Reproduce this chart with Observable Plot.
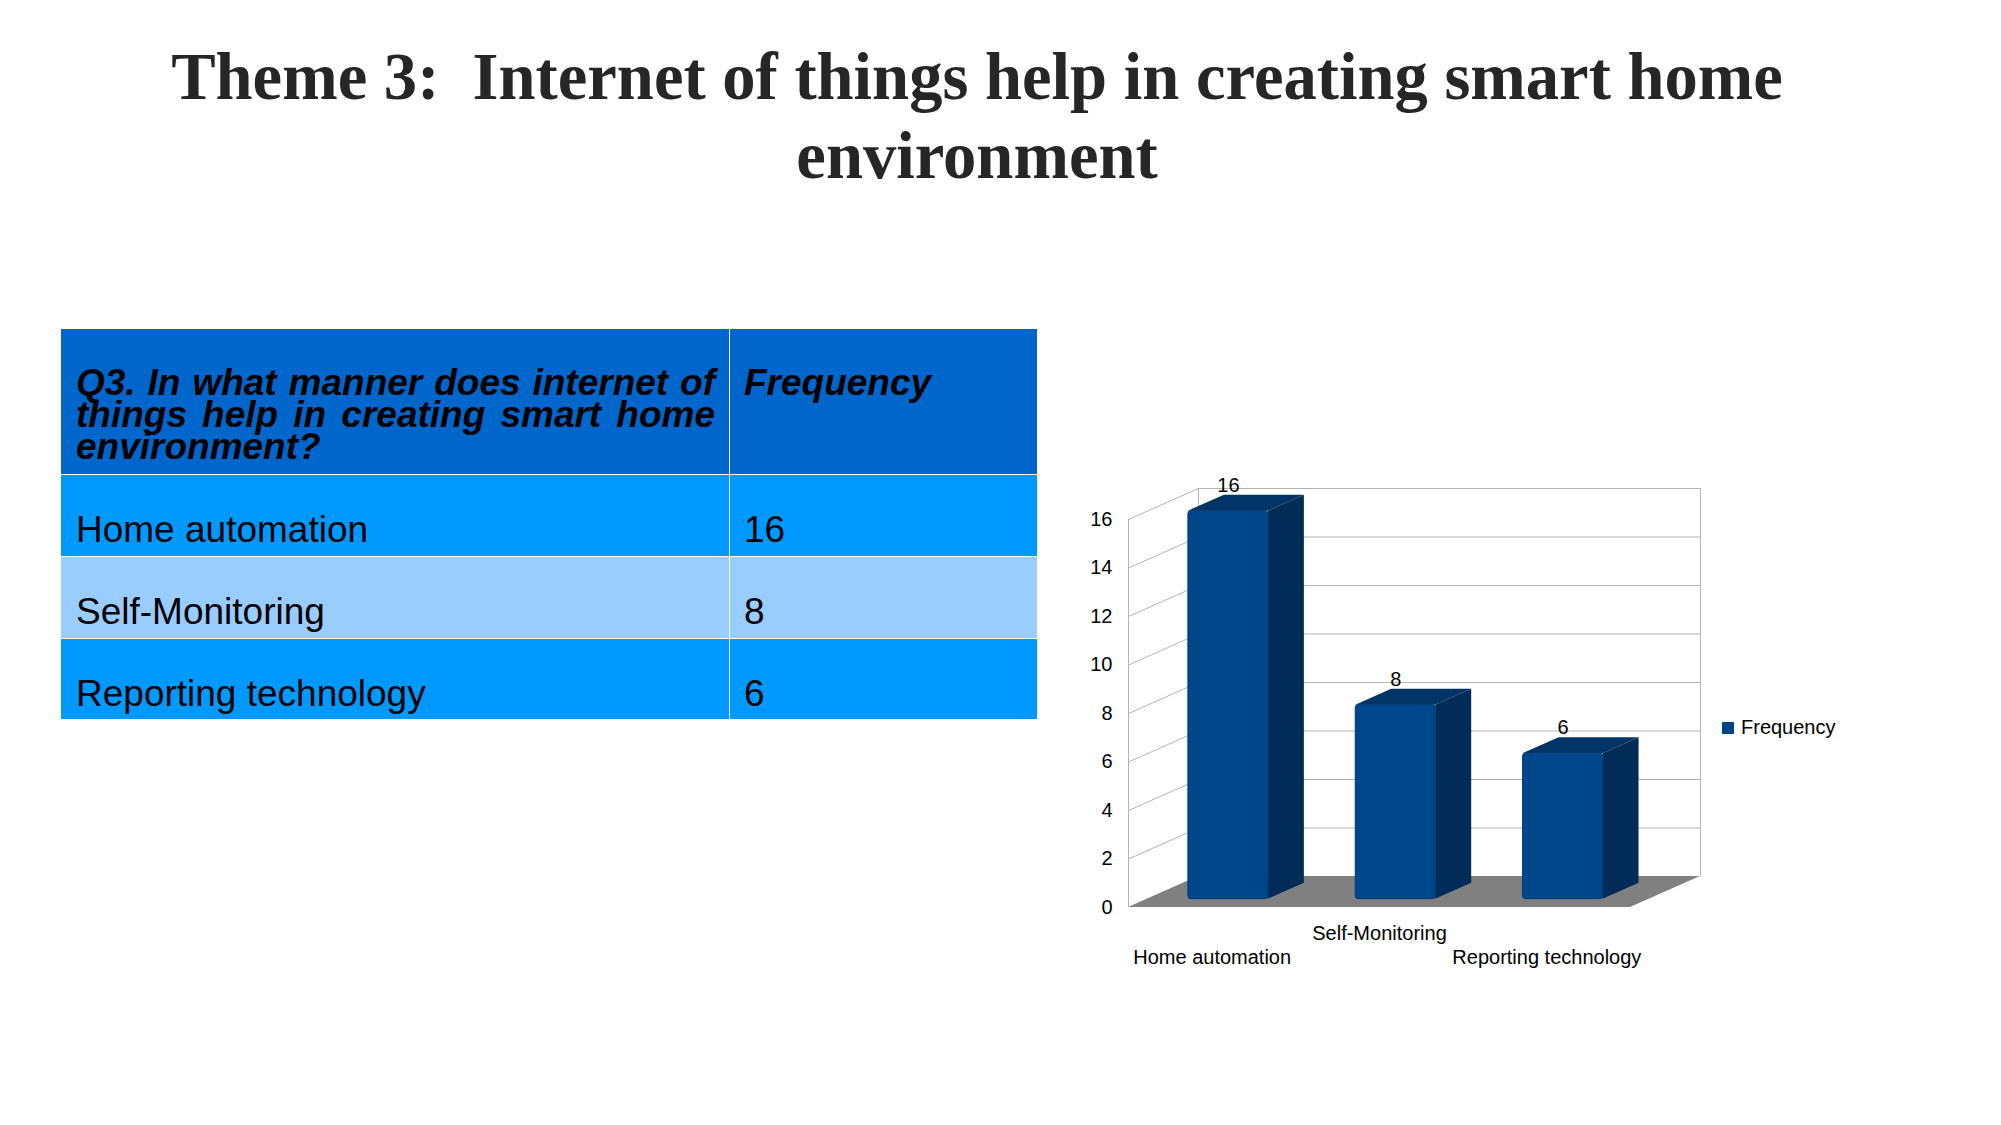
<!DOCTYPE html>
<html>
<head>
<meta charset="utf-8">
<script src="https://cdn.jsdelivr.net/npm/d3@7"></script>
<script src="https://cdn.jsdelivr.net/npm/@observablehq/plot@0.6"></script>
<style>
  html, body { margin: 0; padding: 0; width: 2001px; height: 1125px; overflow: hidden; background: #fff; }
  #title { position: absolute; left: 0; top: 37px; width: 1954px; text-align: center;
    font: bold 66.6px/79px "Liberation Serif", "DejaVu Serif", serif; color: #262626; }
  #table { position: absolute; left: 61px; top: 329px; display: grid;
    grid-template-columns: 668px 307px; grid-template-rows: 145px 81px 81px 80px;
    gap: 1px; background: #fff; }
  #table div { box-sizing: border-box; color: #000; font-family: "Liberation Sans", Arial, sans-serif; }
  #table .hd { background: #0066cc; font-style: italic; font-weight: bold; font-size: 37px; line-height: 32px; padding: 38px 14px 0 15px; text-align: justify; }
  #table .hd2 { padding-left: 14px; }
  #table .bd { font-size: 37px; line-height: 32px; padding: 39px 14px 0 15px; }
  #table .bd2 { padding-left: 14px; }
  #chart { position: absolute; left: 1060px; top: 460px; }
  #legend { position: absolute; left: 1722px; top: 716px; display: flex; align-items: center;
    font: 20px "Liberation Sans", Arial, sans-serif; color: #000; }
  #legend .sw { width: 12px; height: 12px; background: #004586; margin-right: 7px; }
</style>
</head>
<body>
<div id="title"></div>
<div id="table"></div>
<div id="chart"></div>
<div id="legend"><div class="sw"></div><span id="legtext"></span></div>
<script>
// ---- data ----
const titleLines = ["Theme 3:\u00a0 Internet of things help in creating smart home", "environment"];
const tableHeader = ["Q3. In what manner does internet of things help in creating smart home environment?", "Frequency"];
const categories = ["Home automation", "Self-Monitoring", "Reporting technology"];
const frequency = [16, 8, 6];
const yTicks = [0, 2, 4, 6, 8, 10, 12, 14, 16];
const seriesName = "Frequency";
const rowColors = ["#0099ff", "#99ccff", "#0099ff"];

// ---- title ----
const titleEl = document.getElementById("title");
titleLines.forEach((l, i) => { if (i) titleEl.appendChild(document.createElement("br")); titleEl.appendChild(document.createTextNode(l)); });

// ---- table ----
const tb = document.getElementById("table");
const h1 = document.createElement("div"); h1.className = "hd"; h1.textContent = tableHeader[0]; tb.appendChild(h1);
const h2 = document.createElement("div"); h2.className = "hd hd2"; h2.textContent = tableHeader[1]; tb.appendChild(h2);
categories.forEach((c, i) => {
  const a = document.createElement("div"); a.className = "bd"; a.style.background = rowColors[i]; a.textContent = c; tb.appendChild(a);
  const b = document.createElement("div"); b.className = "bd bd2"; b.style.background = rowColors[i]; b.textContent = String(frequency[i]); tb.appendChild(b);
});
document.getElementById("legtext").textContent = seriesName;

// ---- 3D bar chart ----
const n = categories.length;
const yMax = yTicks[yTicks.length - 1];
const rows = categories.map((c, i) => ({ category: c, value: frequency[i], i }));

// projection geometry (scale units)
const DX = 0.418, DY = 1.278;        // depth of the chart box
const BOX = 0.097, BOY = 0.345;      // bar front face offset into depth
const HW = 0.239;                    // bar half width
const BDX = 0.215, BDY = 0.66;       // bar depth

const gridColor = "#b3b3b3";
const frontColor = "#00468a", sideColor = "#002c57", topColor = "#003466";

const xl = d => d.i + 0.5 - HW + BOX;
const xr = d => d.i + 0.5 + HW + BOX;

const sidePts = rows.flatMap(d => [
  { i: d.i, x: xr(d), y1: BOY, y2: BOY + d.value },
  { i: d.i, x: xr(d) + BDX, y1: BOY + BDY, y2: BOY + BDY + d.value }
]);
const topPts = rows.flatMap(d => [
  { i: d.i, y: BOY + d.value, x1: xl(d), x2: xr(d) },
  { i: d.i, y: BOY + BDY + d.value, x1: xl(d) + BDX, x2: xr(d) + BDX }
]);
const floorPts = [
  { y: 0, x1: 0, x2: n },
  { y: DY, x1: DX, x2: n + DX }
];

const txt = { fontSize: 20, fill: "#000" };

const chart = Plot.plot({
  width: 820,
  height: 530,
  style: { fontFamily: "Liberation Sans, Arial, sans-serif", fontSize: "20px", background: "transparent", overflow: "visible" },
  x: { type: "linear", domain: [0, n], range: [68, 570], axis: null },
  y: { type: "linear", domain: [0, yMax], range: [447, 447 - yMax * 24.25], axis: null },
  marks: [
    // back wall gridlines
    Plot.ruleY(yTicks.filter(v => v > 0), { y: v => v + DY, x1: () => DX, x2: () => n + DX, stroke: gridColor, strokeWidth: 1 }),
    // side wall gridlines
    Plot.link(yTicks.filter(v => v > 0), { x1: () => 0, y1: v => v, x2: () => DX, y2: v => v + DY, stroke: gridColor, strokeWidth: 1 }),
    // edges
    Plot.ruleX([0], { x: v => v, y1: () => 0, y2: () => yMax, stroke: gridColor, strokeWidth: 1 }),
    Plot.ruleX([DX, n + DX], { x: v => v, y1: () => DY, y2: () => yMax + DY, stroke: gridColor, strokeWidth: 1 }),
    // floor
    Plot.areaX(floorPts, { y: "y", x1: "x1", x2: "x2", fill: "#808080", curve: "linear" }),
    // bars
    Plot.areaY(sidePts, { x: "x", y1: "y1", y2: "y2", z: "i", fill: sideColor, curve: "linear" }),
    Plot.areaX(topPts, { y: "y", x1: "x1", x2: "x2", z: "i", fill: topColor, curve: "linear" }),
    Plot.rect(rows, { x1: xl, x2: xr, y1: () => BOY, y2: d => BOY + d.value, fill: frontColor, rx: 3, stroke: "#003a73", strokeWidth: 1 }),
    // value labels
    Plot.text(rows, { x: d => d.i + 0.5 + BOX, y: d => BOY + d.value, text: d => String(d.value), dy: -26, ...txt }),
    // y tick labels
    Plot.text(yTicks, { x: () => 0, y: v => v, text: v => String(v), dx: -16, textAnchor: "end", ...txt }),
    // category labels (staggered)
    Plot.text(rows.filter(d => d.i % 2 === 0), { x: d => d.i + 0.5, y: () => 0, text: "category", dy: 50, ...txt }),
    Plot.text(rows.filter(d => d.i % 2 === 1), { x: d => d.i + 0.5, y: () => 0, text: "category", dy: 26, ...txt })
  ]
});
document.getElementById("chart").appendChild(chart);
</script>
</body>
</html>
